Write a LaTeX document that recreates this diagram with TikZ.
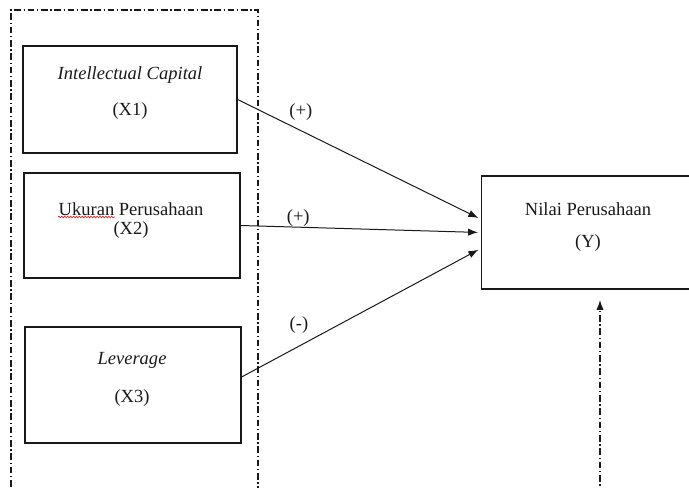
\documentclass[tikz,border=0pt]{standalone}
\usepackage{fontspec}
\setmainfont{Liberation Serif}
\usepackage{tikz}
\usetikzlibrary{calc, arrows.meta, positioning, decorations.pathmorphing}
\definecolor{mainBlack}{gray}{0.1}
\definecolor{spellRed}{RGB}{220,30,30}

\tikzset{
    varbox/.style={draw, mainBlack, line width=0.9pt, inner sep=0pt},
    dashdotline/.style={mainBlack, line width=0.8pt, dash pattern=on 5pt off 2pt on 1pt off 2pt},
    txt/.style={font=\fontsize{13.9}{15}\selectfont, text=mainBlack, inner sep=1pt},
}

\begin{document}
\begin{tikzpicture}[x=0.75pt, y=-0.75pt, >={Latex[length=7.5pt,width=5.5pt]}]
    \useasboundingbox (0,0) rectangle (689,488);
    \clip (0,0) rectangle (689,488);

    % variabel independen
    \draw[dashdotline] (11,500) -- (11,10) -- (258,10) -- (258,500);
    \node[varbox, minimum width=160.5pt, minimum height=80.25pt] (x1) at (130,99.5) {};
    \node[varbox, minimum width=162pt, minimum height=78.75pt] (x2) at (132,225.5) {};
    \node[varbox, minimum width=162pt, minimum height=87pt] (x3) at (133,385) {};
    \node[txt] (x1a) at (130,75) {\textit{Intellectual Capital}};
    \node[txt] (x1b) at (130,111) {(X1)};
    \node[txt] (x2a) at (131,209) {Ukuran Perusahaan};
    \node[txt] (x2b) at (131,230) {(X2)};
    \node[txt] (x3a) at (132,360) {\textit{Leverage}};
    \node[txt] (x3b) at (132,398) {(X3)};
    \draw[spellRed, line width=0.5pt, decorate, decoration={snake, amplitude=0.6pt, segment length=2.2pt}] (58,217) -- (115,217);

    % variabel dependen
    \node[varbox, minimum width=166pt, minimum height=84.75pt] (y) at (592,232.5) {};
    \node[txt] (ya) at (588,209) {Nilai Perusahaan};
    \node[txt] (yb) at (588,243) {(Y)};

    % hubungan
    \draw[->, mainBlack, line width=0.75pt, shorten >=2pt] (x1.east) -- ([yshift=10pt]y.west) node[txt, pos=0.26, above=6pt] (h1) {(+)};
    \draw[->, mainBlack, line width=0.75pt, shorten >=2pt] (x2.east) -- (y.west) node[txt, pos=0.24, above=-1pt] (h2) {(+)};
    \draw[->, mainBlack, line width=0.75pt, shorten >=2pt] ([yshift=6pt]x3.east) -- ([yshift=-12pt]y.west) node[txt, pos=0.24, above=8pt] (h3) {(-)};

    \coordinate (ybot) at (600,495);
    \draw[->, dashdotline] (ybot) -- (600,300);
\end{tikzpicture}
\end{document}
